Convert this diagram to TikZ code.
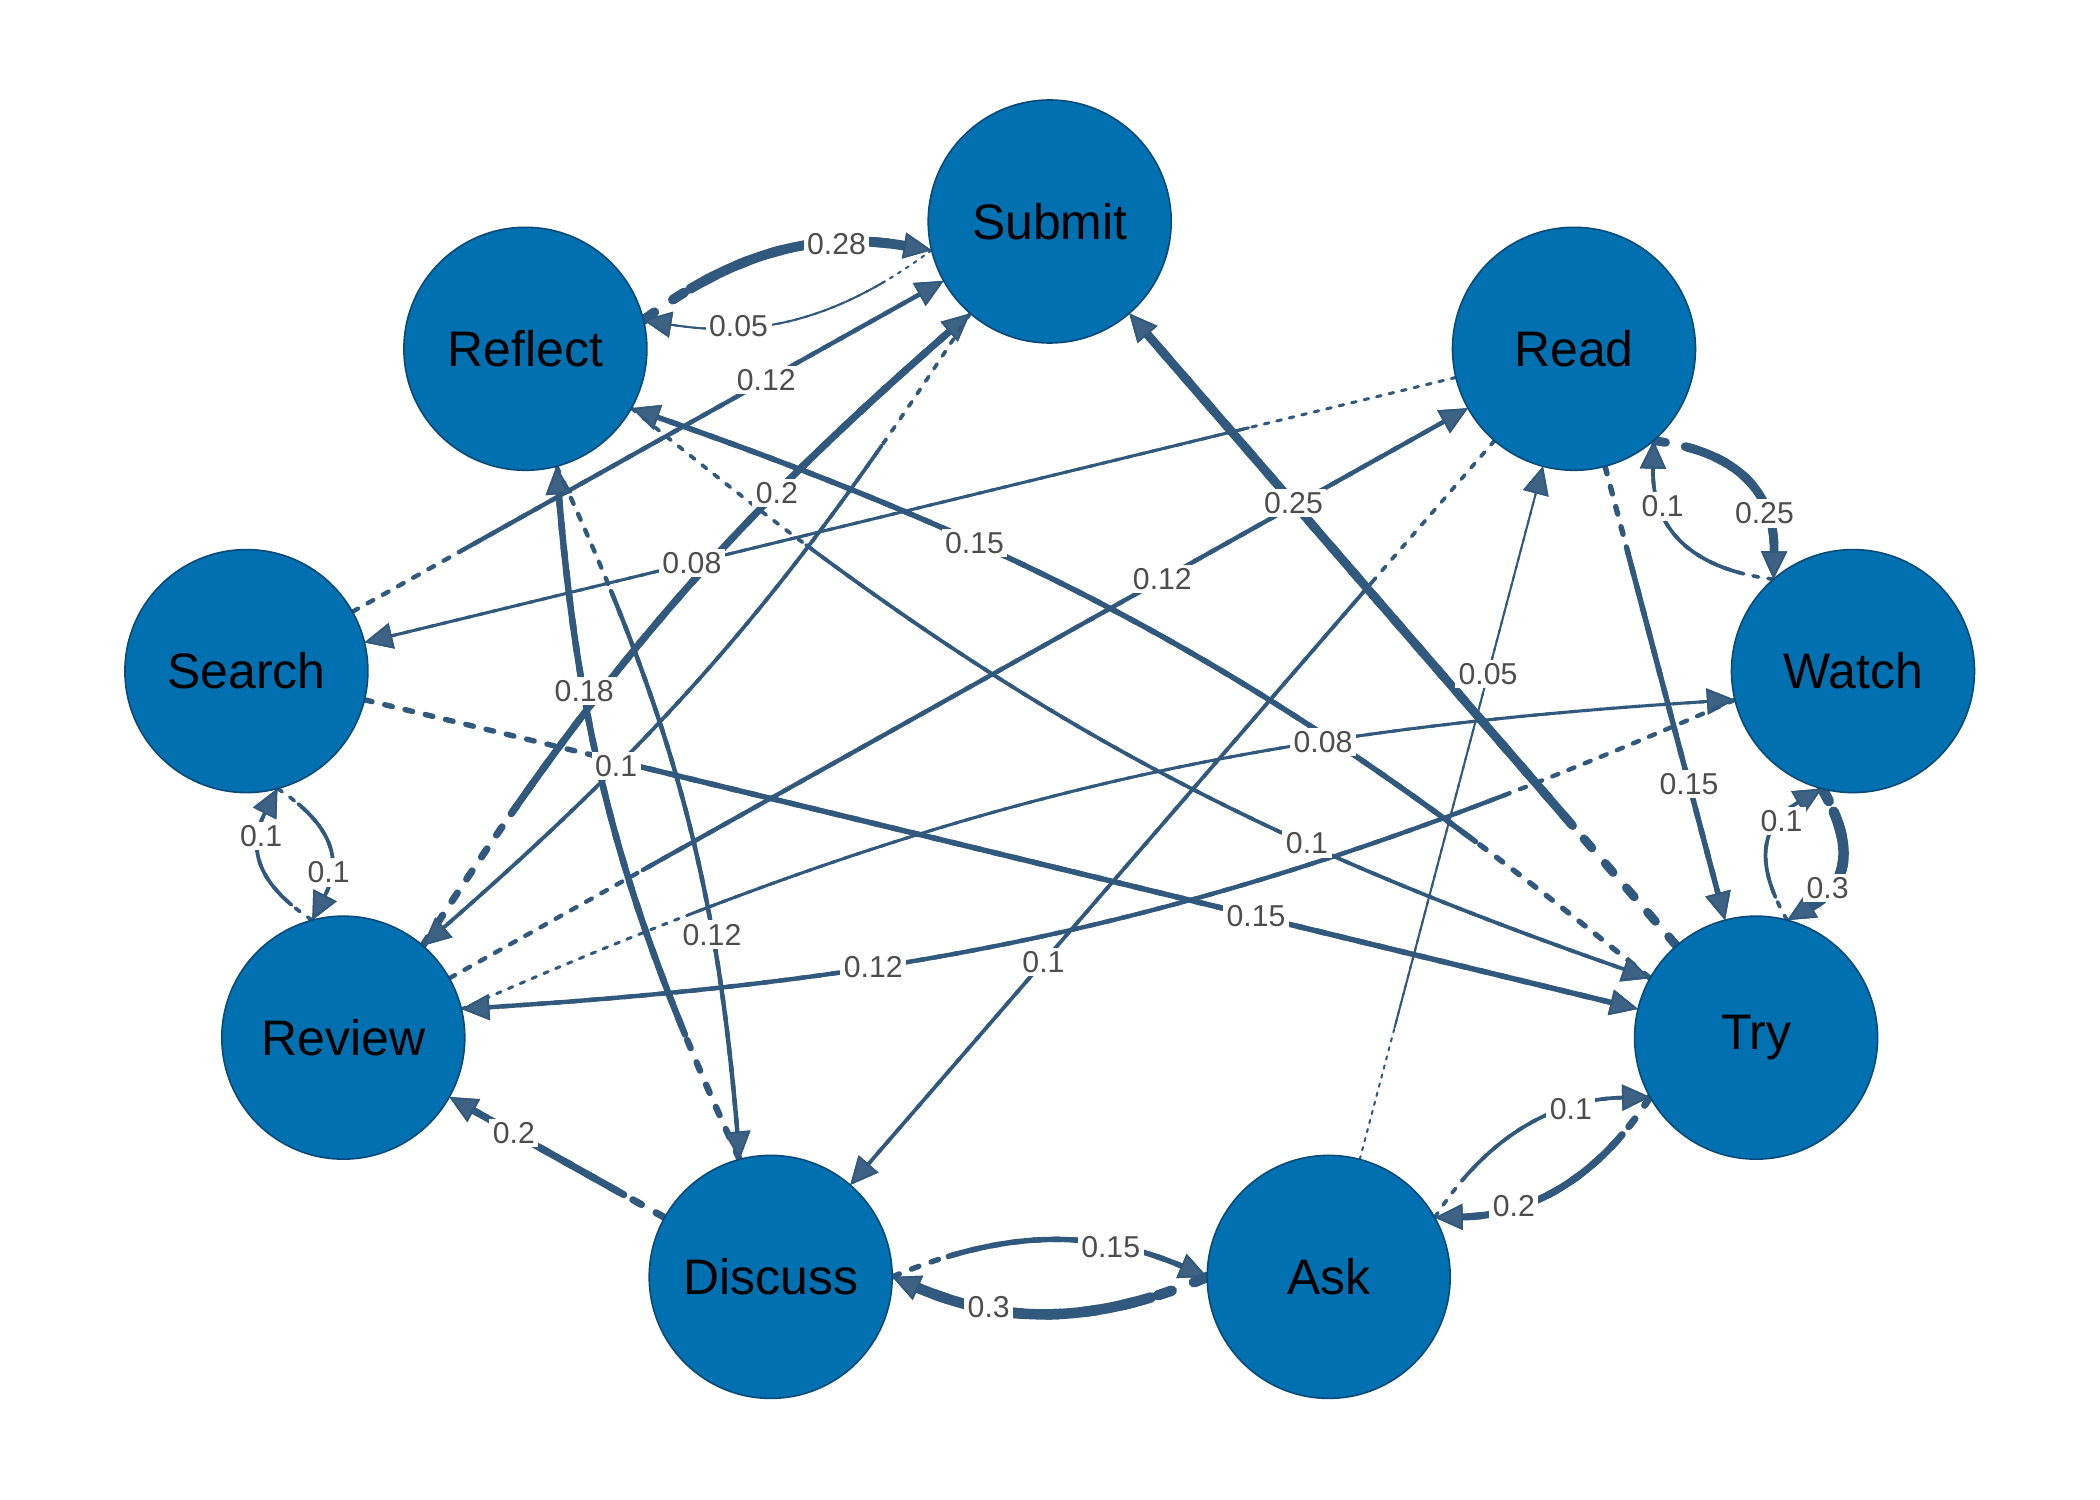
\documentclass[tikz,border=0pt]{standalone}
\usepackage{fontspec}
\setmainfont{Liberation Sans}
\usetikzlibrary{arrows.meta,calc}
\pgfdeclarelayer{edges}
\pgfdeclarelayer{labels}
\pgfsetlayers{edges,labels,main}
\definecolor{nodefill}{HTML}{0070B0}
\definecolor{nodeline}{HTML}{0B4A78}
\definecolor{edgecol}{HTML}{31587D}
\definecolor{tipfill}{HTML}{3D6283}
\definecolor{labcol}{HTML}{4D4D4D}
\tikzset{
  stnode/.style={circle, fill=nodefill, draw=nodeline, line width=0.45pt,
    minimum size=2.43cm, inner sep=0pt, text=black,
    font=\fontsize{14.2}{17}\selectfont},
  elabel/.style={fill=white, inner sep=1pt, text=labcol,
    font=\fontsize{8.6}{10}\selectfont},
  edgeline/.style={draw=edgecol, line cap=round,
    -{Triangle[length=0.28cm, width=0.26cm, fill=tipfill, line width=0.5pt]}}
}
% #1 source, #2 target, #3 weight, #4 to-options, #5 label
\newcommand\edge[5]{%
  \path ($(#1)!1.215cm!(#2)$) coordinate (eS) ($(#2)!1.215cm!(#1)$) coordinate (eE);
  \pgfpointdiff{\pgfpointanchor{eS}{center}}{\pgfpointanchor{eE}{center}}%
  \pgfgetlastxy{\edx}{\edy}%
  \pgfmathsetmacro\edL{veclen(\edx,\edy)}%
  \pgfmathsetmacro\edLd{0.19*\edL}%
  \pgfmathsetmacro\edW{0.1+9.6*#3}%
  \pgfmathsetmacro\edOn{1.3*\edW+0.2}%
  \pgfmathsetmacro\edOff{2.1*\edW+0.5}%
  \begin{pgfonlayer}{edges}
    \draw[edgeline, line width=\edW pt, dash pattern=on \edOn pt off \edOff pt] (eS) to[#4] (eE);
    \draw[edgeline, line width=\edW pt, dash pattern=on 0pt off \edLd pt on 280cm off 0pt] (eS) to[#4] (eE);
  \end{pgfonlayer}
  \begin{pgfonlayer}{labels}
    \path (eS) to[#4] node[elabel, pos=0.7] {#5} (eE);
  \end{pgfonlayer}
}
\begin{document}
\begin{tikzpicture}
\begin{pgfonlayer}{edges}
  \fill[white] (0,0) rectangle (21,15);
\end{pgfonlayer}
\useasboundingbox (0,0) rectangle (21,15);

\node[stnode] (Submit)  at (10.497,12.785) {Submit};
\node[stnode] (Read)    at (15.740,11.512) {Read};
\node[stnode] (Watch)   at (18.530,8.289)  {Watch};
\node[stnode] (Try)     at (17.561,4.6235) {Try};
\node[stnode] (Ask)     at (13.287,2.231)  {Ask};
\node[stnode] (Discuss) at (7.707,2.231)   {Discuss};
\node[stnode] (Review)  at (3.433,4.6235)  {Review};
\node[stnode] (Search)  at (2.464,8.289)   {Search};
\node[stnode] (Reflect) at (5.254,11.512)  {Reflect};

\edge{Reflect}{Submit}{0.28}{bend left=23}{0.28}
\edge{Submit}{Reflect}{0.05}{bend left=23}{0.05}
\edge{Search}{Submit}{0.12}{}{0.12}
\edge{Review}{Submit}{0.2}{bend left=8}{0.2}
\edge{Submit}{Review}{0.1}{bend left=8}{0.1}
\edge{Try}{Reflect}{0.15}{bend right=10}{0.15}
\edge{Reflect}{Try}{0.1}{bend right=10}{0.1}
\edge{Read}{Search}{0.08}{}{0.08}
\edge{Try}{Submit}{0.25}{}{0.25}
\edge{Review}{Read}{0.12}{}{0.12}
\edge{Discuss}{Reflect}{0.18}{bend left=10}{0.18}
\edge{Reflect}{Discuss}{0.12}{bend left=10}{0.12}
\edge{Ask}{Read}{0.05}{}{0.05}
\edge{Review}{Watch}{0.08}{bend left=10}{0.08}
\edge{Watch}{Review}{0.12}{bend left=10}{0.12}
\edge{Search}{Try}{0.15}{}{0.15}
\edge{Read}{Discuss}{0.1}{}{0.1}
\edge{Discuss}{Review}{0.2}{}{0.2}
\edge{Discuss}{Ask}{0.15}{bend left=23}{0.15}
\edge{Ask}{Discuss}{0.3}{bend left=23}{0.3}
\edge{Ask}{Try}{0.1}{bend left=28}{0.1}
\edge{Try}{Ask}{0.2}{bend left=28}{0.2}
\edge{Read}{Try}{0.15}{}{0.15}
\edge{Watch}{Read}{0.1}{bend left=42, looseness=1.2}{0.1}
\edge{Read}{Watch}{0.25}{bend left=42, looseness=1.2}{0.25}
\edge{Try}{Watch}{0.1}{bend left=45, looseness=1.3}{0.1}
\edge{Watch}{Try}{0.3}{bend left=45, looseness=1.3}{0.3}
\edge{Review}{Search}{0.1}{bend left=42, looseness=1.25}{0.1}
\edge{Search}{Review}{0.1}{bend left=42, looseness=1.25}{0.1}
\end{tikzpicture}
\end{document}
